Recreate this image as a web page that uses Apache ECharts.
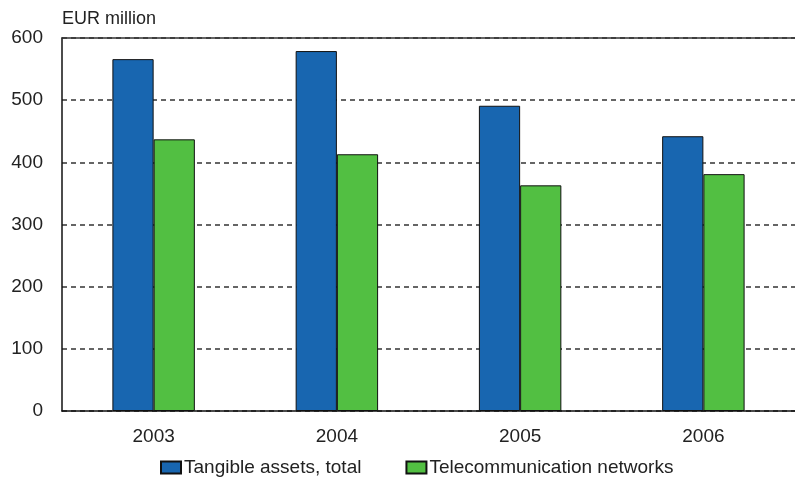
<!DOCTYPE html>
<html>
<head>
<meta charset="utf-8">
<script src="https://cdn.jsdelivr.net/npm/echarts@6/dist/echarts.min.js"></script>
<style>
  html, body { margin: 0; padding: 0; background: #fff; }
  #chart { width: 795px; height: 479px; }
</style>
</head>
<body>
<div id="chart"></div>
<script>
// Investments in tangible assets, EUR million
const years = ['2003', '2004', '2005', '2006'];
const tangibleTotal = [566, 579, 491, 442];
const telecomNetworks = [437, 413, 363, 381];
const seriesNames = ['Tangible assets, total', 'Telecommunication networks'];
const unitLabel = 'EUR million';

const font = 'Liberation Sans, Arial, sans-serif';
const chart = echarts.init(document.getElementById('chart'), null, { renderer: 'canvas' });

chart.setOption({
  animation: false,
  backgroundColor: '#ffffff',
  textStyle: { fontFamily: font },
  grid: { left: 62, right: 0, top: 38, bottom: 68 },
  legend: {
    bottom: -3,
    left: 155,
    icon: 'rect',
    itemWidth: 20,
    itemHeight: 12,
    itemGap: 44,
    textStyle: { fontFamily: font, fontSize: 19, color: '#222', padding: [0, 0, 0, -2] },
    data: seriesNames
  },
  xAxis: [
    {
      type: 'category',
      data: years,
      axisLine: { lineStyle: { color: '#111', width: 1.5 } },
      axisTick: { show: false },
      axisLabel: { fontFamily: font, fontSize: 19, color: '#222', margin: 16 }
    },
    {
      // top frame line of the plot area
      type: 'category',
      position: 'top',
      data: years,
      axisLine: { lineStyle: { color: '#333', width: 1.5 } },
      axisTick: { show: false },
      axisLabel: { show: false }
    }
  ],
  yAxis: {
    type: 'value',
    name: unitLabel,
    nameLocation: 'end',
    nameGap: 10,
    nameTextStyle: { fontFamily: font, fontSize: 18, color: '#222', align: 'left' },
    min: 0, max: 600, interval: 100,
    axisLine: { show: true, lineStyle: { color: '#111', width: 1.5 } },
    axisTick: { show: false },
    axisLabel: { fontFamily: font, fontSize: 19, color: '#222', margin: 19 },
    splitLine: { lineStyle: { color: '#333', type: [5, 4], width: 1.5 } }
  },
  series: [
    {
      name: seriesNames[0],
      type: 'bar',
      data: tangibleTotal,
      barGap: '0%',
      barCategoryGap: '55%',
      itemStyle: { color: '#1866b0', borderColor: '#111', borderWidth: 1 }
    },
    {
      name: seriesNames[1],
      type: 'bar',
      data: telecomNetworks,
      itemStyle: { color: '#52bf42', borderColor: '#111', borderWidth: 1 }
    }
  ]
});
</script>
</body>
</html>
